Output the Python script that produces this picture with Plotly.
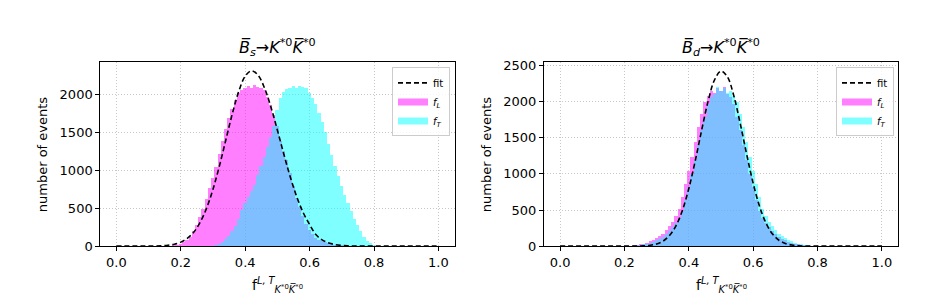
import plotly.graph_objects as go

# ---------------- data ----------------
bin_width = 0.01

# left panel: Bs -> K*0 K*0bar
bs_fL_x = [round(0.17 + 0.01 * i, 2) for i in range(56)]  # 0.17 .. 0.72
bs_fL_y = [3, 8, 15, 30, 50, 80, 120, 190, 280, 380, 490, 620, 760, 900, 1040, 1210,
           1390, 1550, 1690, 1810, 1930, 2020, 2060, 2090, 2110, 2080, 2120, 2100, 2090,
           2060, 1970, 1860, 1730, 1580, 1380, 1250, 1130, 960, 790, 630, 510, 390, 290,
           210, 150, 110, 80, 60, 45, 33, 24, 16, 10, 6, 3, 1]
bs_fT_x = [round(0.30 + 0.01 * i, 2) for i in range(52)]  # 0.30 .. 0.81
bs_fT_y = [3, 6, 20, 45, 85, 130, 190, 260, 360, 470, 560, 640, 720, 810, 940, 1060,
           1180, 1310, 1440, 1580, 1790, 1950, 2030, 2070, 2090, 2110, 2080, 2110, 2100,
           2080, 2020, 1960, 1880, 1760, 1640, 1500, 1350, 1200, 1050, 920, 790, 670, 560,
           460, 360, 270, 190, 120, 70, 35, 12, 4]
bs_fit_x = [round(0.02 * i, 2) for i in range(51)]
bs_fit_y = [0, 0, 0, 0.1, 0.3, 0.8, 2.0, 5.1, 12, 26, 53, 102, 184, 314, 501, 753, 1061,
            1406, 1750, 2046, 2247, 2318, 2259, 2091, 1837, 1533, 1215, 915, 654, 444,
            286, 150, 80, 42, 20, 9, 4, 1.5, 0.6, 0.2, 0, 0, 0, 0, 0, 0, 0, 0, 0, 0, 0]

# right panel: Bd -> K*0 K*0bar
bd_fL_x = [round(0.21 + 0.01 * i, 2) for i in range(58)]  # 0.21 .. 0.78
bd_fL_y = [2, 4, 7, 12, 20, 30, 44, 60, 82, 103, 130, 165, 215, 270, 335, 410, 510, 670,
           855, 1040, 1230, 1440, 1640, 1820, 1990, 2070, 2150, 2120, 2190, 2150, 2200,
           2100, 2060, 1970, 1790, 1600, 1390, 1190, 1000, 815, 630, 480, 390, 320, 255,
           205, 160, 125, 98, 78, 58, 41, 28, 19, 11, 7, 4, 2]
bd_fT_x = [round(0.22 + 0.01 * i, 2) for i in range(58)]  # 0.22 .. 0.79
bd_fT_y = [2, 4, 7, 11, 19, 28, 41, 58, 78, 98, 125, 160, 205, 255, 320, 390, 480, 630,
           815, 1000, 1190, 1390, 1600, 1790, 1970, 2060, 2100, 2200, 2150, 2190, 2120,
           2150, 2070, 1990, 1820, 1640, 1440, 1230, 1040, 855, 670, 510, 410, 335, 270,
           215, 165, 130, 103, 82, 60, 44, 30, 20, 12, 7, 4, 2]
bd_fit_x = [round(0.02 * i, 2) for i in range(51)]
bd_fit_y = [0, 0, 0, 0, 0, 0, 0, 0, 0, 0, 0.1, 0.5, 1.6, 4.6, 12.5, 31, 70, 147, 281,
            494, 798, 1182, 1608, 2008, 2303, 2424, 2343, 2078, 1693, 1266, 869, 548, 317,
            168, 82, 37, 15, 6, 2, 0.6, 0, 0, 0, 0, 0, 0, 0, 0, 0, 0, 0]

x_ticks = [0.0, 0.2, 0.4, 0.6, 0.8, 1.0]
bs_y_ticks = [0, 500, 1000, 1500, 2000]
bd_y_ticks = [0, 500, 1000, 1500, 2000, 2500]

titles = ["<i>B\u0305</i><sub><i>s</i></sub>\u2192<i>K</i><sup>*0</sup><i>K\u0305</i><sup>*0</sup>",
          "<i>B\u0305</i><sub><i>d</i></sub>\u2192<i>K</i><sup>*0</sup><i>K\u0305</i><sup>*0</sup>"]
xlabel = "f<sup><i>L, T</i></sup><sub><i>K</i><sup>*0</sup><i>K\u0305</i><sup>*0</sup></sub>"
ylabel = "number of events"
legend_names = ["fit", "<i>f<sub>L</sub></i>", "<i>f<sub>T</sub></i>"]

# ---------------- figure ----------------
FONT = "DejaVu Sans"
MAG = "rgba(255,0,255,0.5)"
CYA = "rgba(0,255,255,0.5)"

fig = go.Figure()

panels = [
    ("x", "y", "legend", bs_fL_x, bs_fL_y, bs_fT_x, bs_fT_y, bs_fit_x, bs_fit_y),
    ("x2", "y2", "legend2", bd_fL_x, bd_fL_y, bd_fT_x, bd_fT_y, bd_fit_x, bd_fit_y),
]
for xa, ya, lg, lx, ly, tx, ty, fx, fy in panels:
    fig.add_trace(go.Bar(x=lx, y=ly, width=bin_width, marker=dict(color=MAG, line=dict(width=0)),
                         showlegend=False, xaxis=xa, yaxis=ya))
    fig.add_trace(go.Bar(x=tx, y=ty, width=bin_width, marker=dict(color=CYA, line=dict(width=0)),
                         showlegend=False, xaxis=xa, yaxis=ya))
    fig.add_trace(go.Scatter(x=fx, y=fy, mode="lines",
                             line=dict(color="black", width=1.6, dash="5px,3px", shape="spline"),
                             name=legend_names[0], xaxis=xa, yaxis=ya, legend=lg, legendrank=1))
    # legend patches (matplotlib-like wide rectangles)
    fig.add_trace(go.Scatter(x=[None], y=[None], mode="lines", line=dict(color=MAG, width=7),
                             name=legend_names[1], xaxis=xa, yaxis=ya, legend=lg, legendrank=2))
    fig.add_trace(go.Scatter(x=[None], y=[None], mode="lines", line=dict(color=CYA, width=7),
                             name=legend_names[2], xaxis=xa, yaxis=ya, legend=lg, legendrank=3))

axis_common = dict(showline=True, linecolor="black", linewidth=1, mirror=True,
                   ticks="outside", ticklen=4, tickcolor="black", tickwidth=1,
                   showgrid=True, gridcolor="#c8c8c8", griddash="1px,2px", gridwidth=1,
                   zeroline=False, tickfont=dict(family=FONT, size=13, color="black"))

xd1 = [100.3 / 930, 454.5 / 930]
xd2 = [544 / 930, 898 / 930]
yd = [55 / 307, 246.3 / 307]

legend_common = dict(xanchor="right", yanchor="top", bgcolor="rgba(255,255,255,0.8)",
                     bordercolor="#cccccc", borderwidth=1, font=dict(family=FONT, size=10),
                     itemwidth=30, tracegroupgap=0)

fig.update_layout(
    width=930, height=307, margin=dict(l=0, r=0, t=0, b=0),
    paper_bgcolor="white", plot_bgcolor="white", barmode="overlay", bargap=0,
    font=dict(family=FONT, color="black"),
    xaxis=dict(domain=xd1, range=[-0.05, 1.05], tickvals=x_ticks, tickformat=".1f", anchor="y", **axis_common),
    yaxis=dict(domain=yd, range=[0, 2430], tickvals=bs_y_ticks, anchor="x", **axis_common),
    xaxis2=dict(domain=xd2, range=[-0.05, 1.05], tickvals=x_ticks, tickformat=".1f", anchor="y2", **axis_common),
    yaxis2=dict(domain=yd, range=[0, 2545], tickvals=bd_y_ticks, anchor="x2", **axis_common),
    legend=dict(x=450 / 930, y=(307 - 66) / 307, **legend_common),
    legend2=dict(x=894 / 930, y=(307 - 66) / 307, **legend_common),
    showlegend=True,
)

for xc, t in [((xd1[0] + xd1[1]) / 2, titles[0]), ((xd2[0] + xd2[1]) / 2, titles[1])]:
    fig.add_annotation(text=t, x=xc, y=(307 - 45) / 307, xref="paper", yref="paper",
                       showarrow=False, xanchor="center", yanchor="middle",
                       font=dict(family=FONT, size=16, color="black"))
    fig.add_annotation(text=xlabel, x=xc, y=(307 - 292) / 307, xref="paper", yref="paper",
                       showarrow=False, xanchor="center", yanchor="middle",
                       font=dict(family=FONT, size=14, color="black"))

for xp in [42 / 930, 486 / 930]:
    fig.add_annotation(text=ylabel, x=xp, y=(yd[0] + yd[1]) / 2, xref="paper", yref="paper",
                       showarrow=False, textangle=-90, xanchor="center", yanchor="middle",
                       font=dict(family=FONT, size=13, color="black"))

fig.write_html("out.html", config={"displayModeBar": False},
               post_script="document.body.style.margin='0px';")
